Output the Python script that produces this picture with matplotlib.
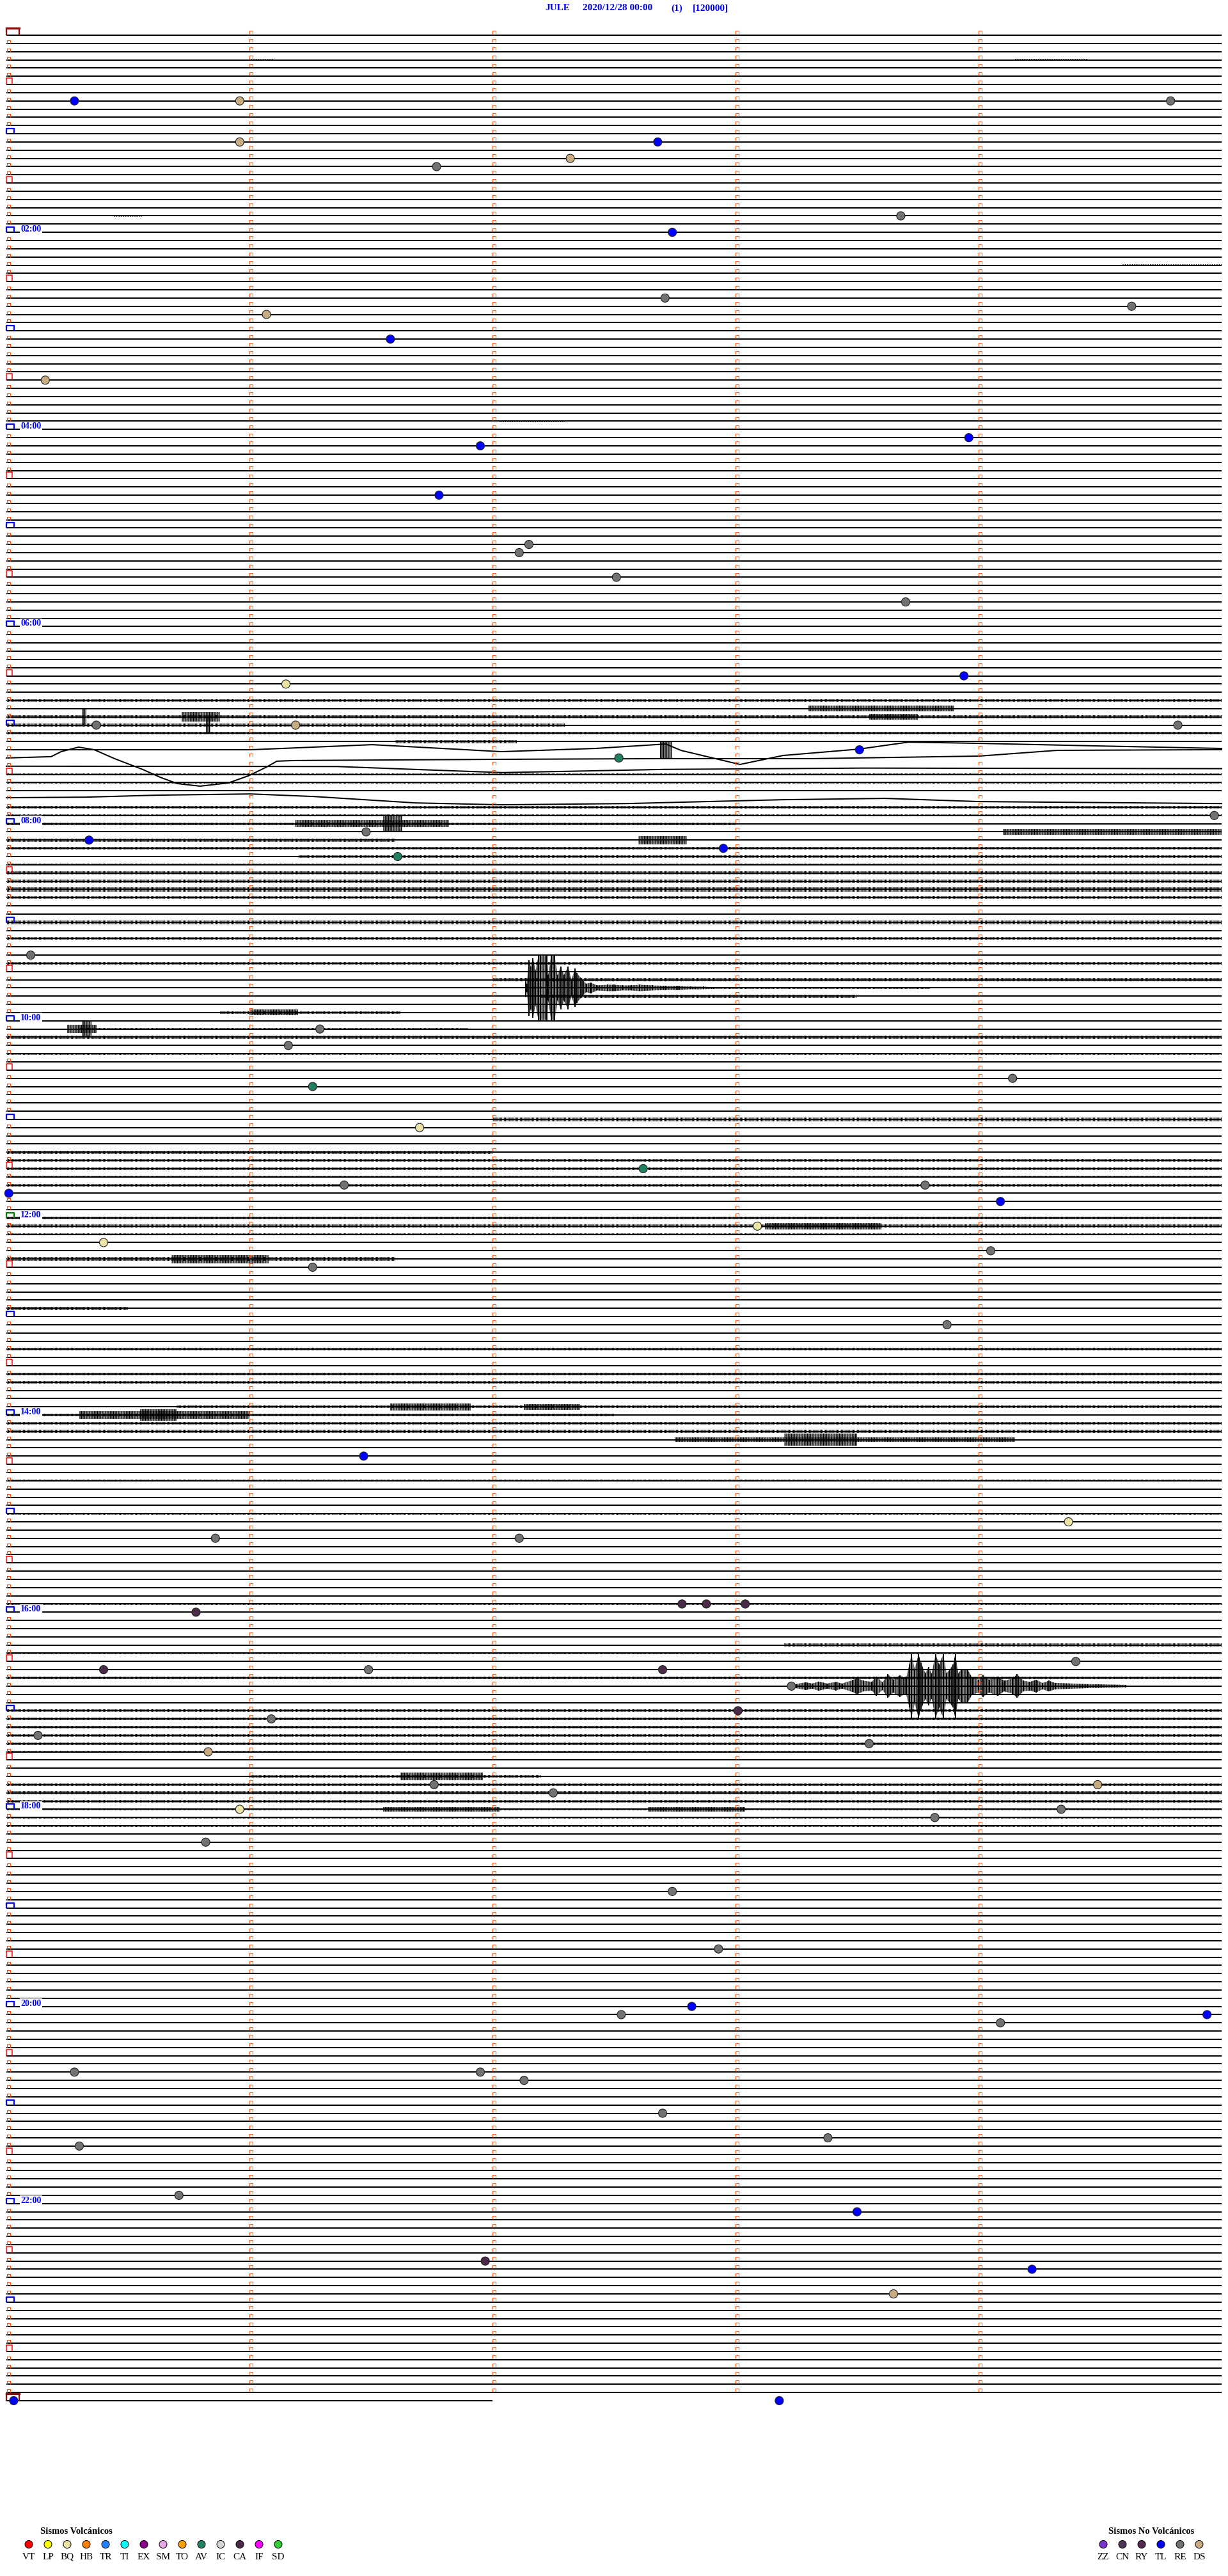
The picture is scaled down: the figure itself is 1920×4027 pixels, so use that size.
import matplotlib
matplotlib.use('Agg')
import matplotlib.pyplot as plt
from matplotlib.collections import LineCollection
from matplotlib.patches import Rectangle
import numpy as np

plt.rcParams['font.family'] = ['Liberation Serif', 'DejaVu Serif']
plt.rcParams['hatch.linewidth'] = 0.8
plt.rcParams['hatch.color'] = 'black'

# ---------------------------------------------------------------- data
station = 'JULE'
start_stamp = '2020/12/28 00:00'
channel = '(1)'
gain = '[120000]'

n_rows = 289            # 5 minute rows, 00:00 ... 24:00
row_minutes = 5
last_row_end = 2.0      # the 24:00 row only holds 2 minutes
hour_labels = ['02:00', '04:00', '06:00', '08:00', '10:00', '12:00',
               '14:00', '16:00', '18:00', '20:00', '22:00']

# long period drift on a few rows: minutes in row, offset in row spacings (+ = down)
drift_rows = [87, 88, 89, 93]
drift_min = [
  [0, 1.005, 1.505, 2.037, 2.424, 2.713, 2.776, 3.018, 3.195, 3.508, 3.711, 4.003, 4.484, 5.0],
  [0, 0.184, 0.226, 0.297, 0.361, 0.445, 0.561, 0.632, 0.703, 0.797, 0.913, 0.995, 1.066,
   1.113, 1.184, 2.037, 2.713, 3.32, 4.003, 4.324, 5.0],
  [0, 1.36, 1.75, 2.04, 2.71, 3.52, 5.0],
  [0, 0.326, 0.618, 1.005, 1.263, 1.682, 2.037, 2.553, 3.195, 3.616, 4.003, 5.0],
]
drift_off = [
  [0, 0, -0.62, 0.23, -0.16, -0.70, 0.08, 1.79, 0.70, -0.08, -0.93, -0.78, -0.47, -0.16],
  [0, -0.16, -0.78, -1.32, -1.01, 0.08, 1.40, 2.34, 3.12, 3.43, 3.04, 2.18, 1.17,
   0.39, 0.31, 0.16, 0.08, 0.08, -0.23, -0.93, -1.01],
  [0, 0.04, 0.47, 0.78, 0.39, 0.23, 0.30],
  [-0.16, -0.23, -0.47, -0.62, -0.31, 0.47, 0.70, 0.55, 0.08, -0.08, 0.31, 0.55],
]

# small background dashes (row, start min, end min)
quiet_dashes = [
  (0, 3.2, 3.33), (0, 4.7, 5.0), (1, 0.84, 1.05), (1, 2.84, 2.99), (1, 4.68, 4.98),
  (2, 1.26, 1.71), (2, 3.81, 3.94), (2, 4.18, 4.74), (3, 1.0, 1.1), (3, 4.15, 4.45),
  (4, 0.04, 0.41), (4, 2.6, 2.99), (4, 3.65, 3.94), (5, 0.6, 0.88), (5, 3.58, 4.05),
  (6, 2.7, 3.04), (7, 3.78, 4.32), (9, 1.35, 1.69), (10, 3.51, 3.92), (11, 0.54, 0.81),
  (11, 4.32, 4.73), (12, 2.03, 2.43), (14, 3.18, 3.65), (17, 3.78, 4.19), (18, 4.05, 4.73),
  (19, 0.54, 1.01), (20, 1.05, 1.23), (20, 3.65, 4.3), (21, 1.10, 1.15), (22, 0.44, 0.56),
  (23, 0.57, 0.65), (25, 0.48, 0.87), (26, 3.04, 3.65), (27, 1.16, 1.19), (28, 4.59, 5.0),
  (29, 0.37, 0.40), (29, 0.82, 0.87), (30, 0.04, 0.08), (30, 0.76, 0.84), (31, 0.52, 0.85),
  (35, 3.51, 4.05), (37, 0.33, 0.41), (38, 0.04, 0.14), (39, 0.0, 0.27), (41, 1.62, 2.03),
  (45, 2.57, 2.84), (45, 4.19, 4.73), (47, 2.03, 2.3), (51, 4.19, 4.59), (52, 0.68, 0.95),
  (54, 3.04, 3.51), (57, 1.35, 1.76), (59, 3.78, 4.19), (61, 3.18, 3.78), (64, 0.88, 1.15),
  (64, 4.05, 4.59), (67, 2.03, 2.57), (70, 0.41, 0.68), (73, 2.23, 2.84), (73, 4.39, 4.73),
  (75, 3.24, 3.72), (76, 1.35, 1.76), (77, 2.57, 2.97), (80, 4.05, 5.0), (81, 0.95, 1.49),
  (81, 2.97, 4.05), (152, 1.2, 1.7), (158, 3.4, 4.1), (175, 0.6, 1.1), (185, 2.2, 2.8),
  (188, 4.0, 4.6), (194, 0.8, 1.3), (220, 1.0, 1.4), (225, 3.0, 3.5), (230, 0.5, 0.9),
  (235, 2.0, 2.6), (238, 4.0, 4.5), (245, 1.2, 1.6), (250, 3.3, 3.9), (255, 0.7, 1.1),
  (260, 2.4, 2.9), (266, 4.1, 4.6), (270, 1.0, 1.4), (276, 2.6, 3.1), (280, 0.3, 0.7),
  (284, 3.5, 4.0), (285, 0.36, 0.45), (285, 1.26, 1.36), (286, 0.99, 1.14),
  (287, 0.26, 0.29), (287, 0.69, 0.74), (288, 0.56, 0.62),
]
dash_amp = 0.08

# noisy stretches (row, start min, end min, half amplitude in row spacings)
noisy_rows = [
  (81, 0, 5, 0.12), (83, 0, 5, 0.18), (84, 0, 2.3, 0.18), (85, 0, 5, 0.15), (86, 1.6, 2.1, 0.18),
  (90, 0, 5, 0.12), (91, 0, 5, 0.12), (94, 0, 5, 0.15), (95, 0, 5, 0.12), (96, 0, 3, 0.15),
  (98, 0, 1.6, 0.2), (99, 0, 5, 0.18), (100, 1.2, 5, 0.15), (101, 0, 5, 0.12), (102, 0, 5, 0.2),
  (103, 0, 5, 0.22), (104, 0, 5, 0.28), (105, 0, 5, 0.15), (108, 0, 5, 0.22), (110, 0, 5, 0.15),
  (113, 0, 5, 0.18), (115, 2.0, 5.0, 0.18), (116, 2.9, 3.8, 0.15), (117, 2.2, 3.5, 0.18),
  (119, 0.88, 1.62, 0.15), (121, 0.3, 1.9, 0.12), (122, 0, 5, 0.18), (124, 0, 5, 0.12),
  (132, 2.0, 5.0, 0.22), (136, 0, 2.0, 0.18), (137, 0, 5, 0.15), (138, 0, 5, 0.15),
  (139, 0, 5, 0.12), (140, 0, 5, 0.15), (144, 0, 5, 0.12), (145, 0, 5, 0.2), (146, 0, 5, 0.12),
  (149, 0, 1.6, 0.22), (155, 0, 0.5, 0.18), (160, 0, 5, 0.15), (163, 0, 5, 0.15),
  (164, 0, 5, 0.15), (167, 0.7, 5, 0.15), (168, 0, 2.5, 0.15), (169, 0, 5, 0.18),
  (170, 0, 5, 0.18), (176, 0, 5, 0.12), (180, 0, 5, 0.12), (191, 0, 5, 0.15), (196, 3.2, 5.0, 0.22),
  (197, 0, 5, 0.12), (200, 0, 5, 0.12), (204, 0, 5, 0.15), (205, 0, 5, 0.15), (206, 0, 5, 0.15),
  (207, 0, 5, 0.15), (208, 0, 5, 0.15), (209, 0, 5, 0.15), (212, 1.0, 2.2, 0.18),
  (213, 0, 5, 0.15), (214, 0, 5, 0.18), (215, 0, 5, 0.15), (216, 0, 5, 0.15),
  (217, 0, 5, 0.12), (218, 0, 5, 0.12),
]

# local bursts (row, start min, end min, half amplitude)
bursts = [
  (82, 3.3, 3.9, 0.35), (83, 0.72, 0.88, 0.6), (83, 0.31, 0.33, 1.1), (83, 3.55, 3.75, 0.35),
  (84, 0.82, 0.84, 0.9), (87, 2.69, 2.74, 1.0), (96, 1.19, 1.82, 0.45), (96, 1.55, 1.63, 1.0),
  (97, 4.1, 5.0, 0.35), (98, 2.6, 2.8, 0.5), (119, 1.0, 1.2, 0.35), (121, 0.25, 0.37, 0.5),
  (121, 0.31, 0.35, 0.9), (145, 3.12, 3.6, 0.4), (149, 0.68, 1.08, 0.5), (167, 1.58, 1.91, 0.45),
  (167, 2.13, 2.36, 0.35), (168, 0.3, 1.0, 0.45), (168, 0.55, 0.7, 0.7), (171, 2.75, 4.15, 0.3),
  (171, 3.2, 3.5, 0.75), (212, 1.62, 1.96, 0.45), (216, 1.55, 2.03, 0.3), (216, 2.64, 3.04, 0.3),
]

# the two large earthquakes: envelope
quake1_row = 116
quake1_min = [2.136, 2.142, 2.149, 2.158, 2.167, 2.177, 2.189, 2.197, 2.224, 2.230, 2.241,
              2.256, 2.268, 2.281, 2.294, 2.311, 2.325, 2.340, 2.347, 2.368, 2.386, 2.404,
              2.430, 2.474, 2.500, 2.535, 2.570, 2.605, 2.658, 2.711, 2.763, 2.816, 2.868, 2.903]
quake1_amp = [1.17, 0.52, 3.38, 2.6, 3.64, 2.08, 3.9, 3.9, 3.9, 1.56, 3.9,
              3.9, 1.56, 2.6, 1.56, 2.6, 1.04, 2.34, 1.82, 1.04, 0.52, 0.65,
              0.31, 0.39, 0.39, 0.31, 0.31, 0.39, 0.31, 0.26, 0.26, 0.16, 0.16, 0.1]

quake2_row = 201
quake2_min = [3.250, 3.289, 3.316, 3.342, 3.377, 3.412, 3.439, 3.482, 3.500, 3.526, 3.561,
              3.579, 3.605, 3.627, 3.649, 3.675, 3.702, 3.715, 3.724, 3.737, 3.753, 3.763,
              3.781, 3.794, 3.807, 3.823, 3.838, 3.855, 3.868, 3.882, 3.895, 3.904, 3.917,
              3.930, 3.956, 3.974, 4.000, 4.018, 4.044, 4.079, 4.105, 4.140, 4.158, 4.184,
              4.211, 4.237, 4.263, 4.289, 4.316, 4.447, 4.605]
quake2_amp = [0.26, 0.47, 0.31, 0.57, 0.31, 0.52, 0.31, 0.73, 0.99, 0.65, 0.52,
              1.17, 0.47, 1.43, 0.78, 1.30, 0.91, 2.6, 3.9, 2.08, 3.9, 2.86,
              1.56, 2.34, 1.56, 3.9, 2.6, 3.9, 1.56, 2.08, 2.6, 3.9, 1.56,
              2.08, 1.95, 1.04, 0.78, 1.30, 0.78, 1.17, 0.65, 0.91, 1.43, 0.65,
              0.52, 0.78, 0.39, 0.65, 0.39, 0.25, 0.15]

# classified events: row, minute within row, type
ev_row = [8, 8, 8, 13, 13, 16, 15, 22, 24, 32, 33, 34, 37, 42, 50, 49, 56, 62, 63, 66,
          69, 78, 79, 84, 84, 84, 87, 88, 95, 97, 98, 99, 100, 112, 121, 123, 127, 128, 133, 138,
          140, 140, 141, 142, 145, 147, 150, 148, 157, 173, 181, 183, 183, 191, 191, 191, 192, 198, 199, 199,
          199, 201, 204, 205, 207, 208, 209, 213, 213, 214, 216, 216, 217, 220, 226, 233, 240, 241, 241, 242,
          248, 248, 249, 253, 256, 257, 263, 265, 271, 272, 275, 288, 288]
ev_min = [0.28, 0.96, 4.79, 0.96, 2.68, 1.77, 2.32, 3.68, 2.74, 2.71, 4.63, 1.07, 1.58, 0.16, 1.95, 3.96, 1.78, 2.15, 2.11, 2.51,
          3.70, 3.94, 1.15, 0.37, 1.19, 4.82, 3.51, 2.52, 4.97, 1.48, 0.34, 2.95, 1.61, 0.10, 1.29, 1.16, 4.14, 1.26, 1.70, 2.62,
          1.39, 3.78, 0.01, 4.09, 3.09, 0.40, 1.26, 4.05, 3.87, 1.47, 4.37, 0.86, 2.11, 2.78, 2.88, 3.04, 0.78, 4.40, 0.40, 2.70,
          1.49, 3.23, 3.01, 1.09, 0.13, 3.55, 0.83, 4.49, 1.76, 2.25, 0.96, 4.34, 3.82, 0.82, 2.74, 2.93, 2.82, 2.53, 4.94, 4.09,
          0.28, 1.95, 2.13, 2.70, 3.38, 0.30, 0.71, 3.50, 1.97, 4.22, 3.65, 0.03, 3.18]
ev_type = ['TL', 'DS', 'RE', 'DS', 'TL', 'RE', 'DS', 'RE', 'TL', 'RE', 'RE', 'DS', 'TL', 'DS', 'TL', 'TL', 'TL', 'RE', 'RE', 'RE',
           'RE', 'TL', 'BQ', 'RE', 'DS', 'RE', 'TL', 'AV', 'RE', 'RE', 'TL', 'TL', 'AV', 'RE', 'RE', 'RE', 'RE', 'AV', 'BQ', 'AV',
           'RE', 'RE', 'TL', 'TL', 'BQ', 'BQ', 'RE', 'RE', 'RE', 'TL', 'BQ', 'RE', 'RE', 'CA', 'CA', 'CA', 'CA', 'RE', 'CA', 'CA',
           'RE', 'RE', 'CA', 'RE', 'RE', 'RE', 'DS', 'DS', 'RE', 'RE', 'BQ', 'RE', 'RE', 'RE', 'RE', 'RE', 'TL', 'RE', 'TL', 'RE',
           'RE', 'RE', 'RE', 'RE', 'RE', 'RE', 'RE', 'TL', 'CA', 'TL', 'DS', 'TL', 'TL']

# legend
vol_title = 'Sismos Volcánicos'
vol_codes = ['VT', 'LP', 'BQ', 'HB', 'TR', 'TI', 'EX', 'SM', 'TO', 'AV', 'IC', 'CA', 'IF', 'SD']
vol_colors = ['#ff0000', '#ffff00', '#ece3a6', '#ff8000', '#2080ff', '#00ffff', '#8b008b',
              '#e8a8e8', '#ffa000', '#23805f', '#d6d6d6', '#4a2a48', '#ff00ff', '#33cc33']
nonvol_title = 'Sismos No Volcánicos'
nonvol_codes = ['ZZ', 'CN', 'RY', 'TL', 'RE', 'DS']
nonvol_colors = ['#7b30d2', '#4a3656', '#552a4e', '#0000ff', '#727272', '#c9ab82']

# ---------------------------------------------------------------- figure
W, H = 1920, 4027
fig = plt.figure(figsize=(W / 100, H / 100), dpi=100)
fig.patch.set_facecolor('white')

px_x = 1 / 380.0     # minutes per pixel
px_y = 1 / 12.84     # rows per pixel
ax = fig.add_axes([0, 0, 1, 1])
ax.set_xlim(-10 * px_x, (W - 10) * px_x)
ax.set_ylim((H - 55) * px_y, -55 * px_y)
ax.axis('off')

line_kw = dict(color='black', lw=1.45)

# plain rows
plain = [r for r in range(n_rows) if r not in drift_rows]
ends = [last_row_end if r == n_rows - 1 else row_minutes for r in plain]
ax.hlines(plain, 0, ends, **line_kw)

# drifting rows
for r, xm, off in zip(drift_rows, drift_min, drift_off):
  ax.plot(xm, r + np.array(off), **line_kw)


def band(row, t0, t1, amp, hatch='||||||||'):
  # noise drawn as a comb of short vertical strokes
  ax.add_patch(Rectangle((t0, row - amp), t1 - t0, 2 * amp, facecolor='none',
                         edgecolor='black', lw=0, hatch=hatch))


for r, t0, t1 in quiet_dashes:
  band(r, t0, t1, dash_amp, hatch='||||||')
for r, t0, t1, a in noisy_rows:
  band(r, t0, t1, a)
for r, t0, t1, a in bursts:
  band(r, t0, t1, a, hatch='||||||||||')

for row, xm, amp in [(quake1_row, quake1_min, quake1_amp), (quake2_row, quake2_min, quake2_amp)]:
  amp = np.array(amp)
  ax.fill_between(xm, row - amp, row + amp, facecolor='none', edgecolor='black',
                  hatch='||||||||||', lw=0)
  ax.vlines(xm, row - amp, row + amp, color='black', lw=1.4)

# row start and minute ticks
segs, cols, lws = [], [], []


def bracket(x0, y, w, h, color, lw):
  segs.append([(x0, y), (x0, y - h * px_y), (x0 + w * px_x, y - h * px_y), (x0 + w * px_x, y)])
  cols.append(color)
  lws.append(lw)


for r in range(n_rows):
  if r == 0 or r == n_rows - 1:
    bracket(0, r, 20, 10.5, '#8b0a0a', 1.6)
    ax.plot([0, 20 * px_x], [r - 10.5 * px_y, r - 10.5 * px_y], color='#8b0a0a', lw=2.4)
  elif r == 144:
    bracket(0, r, 12, 8, '#008000', 1.6)
  elif r % 12 == 0:
    bracket(0, r, 12, 8, '#0000ff', 1.6)
  elif r % 6 == 0:
    bracket(0, r, 9, 10, '#ff0000', 1.1)
  else:
    bracket(0.002, r, 5, 5, '#ff4a00', 0.8)
  if r < n_rows - 1:
    for m in range(1, row_minutes):
      bracket(m, r - 1.5 * px_y, 5, 5, '#ff5a10', 0.75)

ax.add_collection(LineCollection(segs, colors=cols, linewidths=lws, zorder=3))

# hour labels
for k, lab in enumerate(hour_labels):
  r = 24 * (k + 1)
  ax.text(22 * px_x, r - 4.5 * px_y, lab, color='#0000ff', fontsize=10, fontweight='bold',
          va='center', ha='left', zorder=4,
          bbox=dict(facecolor='white', edgecolor='none', pad=1.0))

# events
ev_colors = dict(zip(vol_codes, vol_colors))
ev_colors.update(dict(zip(nonvol_codes, nonvol_colors)))
ax.scatter(ev_min, ev_row, s=88, c=[ev_colors[t] for t in ev_type],
           edgecolors='#202020', linewidths=0.8, zorder=5, clip_on=False)

# header and legend in a pixel overlay
lax = fig.add_axes([0, 0, 1, 1])
lax.set_xlim(0, W)
lax.set_ylim(H, 0)
lax.axis('off')
lax.patch.set_alpha(0)

hdr = dict(color='#0000ff', fontsize=11, fontweight='bold', va='center', ha='left')
lax.text(852, 13, station, **hdr)
lax.text(911, 13, start_stamp, **hdr)
lax.text(1049, 13, channel, **hdr)
lax.text(1083, 13, gain, **hdr)

lax.text(63, 3957, vol_title, fontsize=10.5, fontweight='bold', va='center', ha='left')
vx = 45 + 30 * np.arange(len(vol_codes))
lax.scatter(vx, np.full(len(vx), 3977.5), s=75, c=vol_colors, edgecolors='black', linewidths=0.7)
for x, c in zip(vx, vol_codes):
  lax.text(x, 3997, c, fontsize=11, va='center', ha='center')

lax.text(1733, 3957, nonvol_title, fontsize=10.5, fontweight='bold', va='center', ha='left')
nx = 1725 + 30 * np.arange(len(nonvol_codes))
lax.scatter(nx, np.full(len(nx), 3977.5), s=75, c=nonvol_colors, edgecolors='black', linewidths=0.7)
for x, c in zip(nx, nonvol_codes):
  lax.text(x, 3997, c, fontsize=11, va='center', ha='center')

fig.savefig('out.png', dpi=100, facecolor='white')
